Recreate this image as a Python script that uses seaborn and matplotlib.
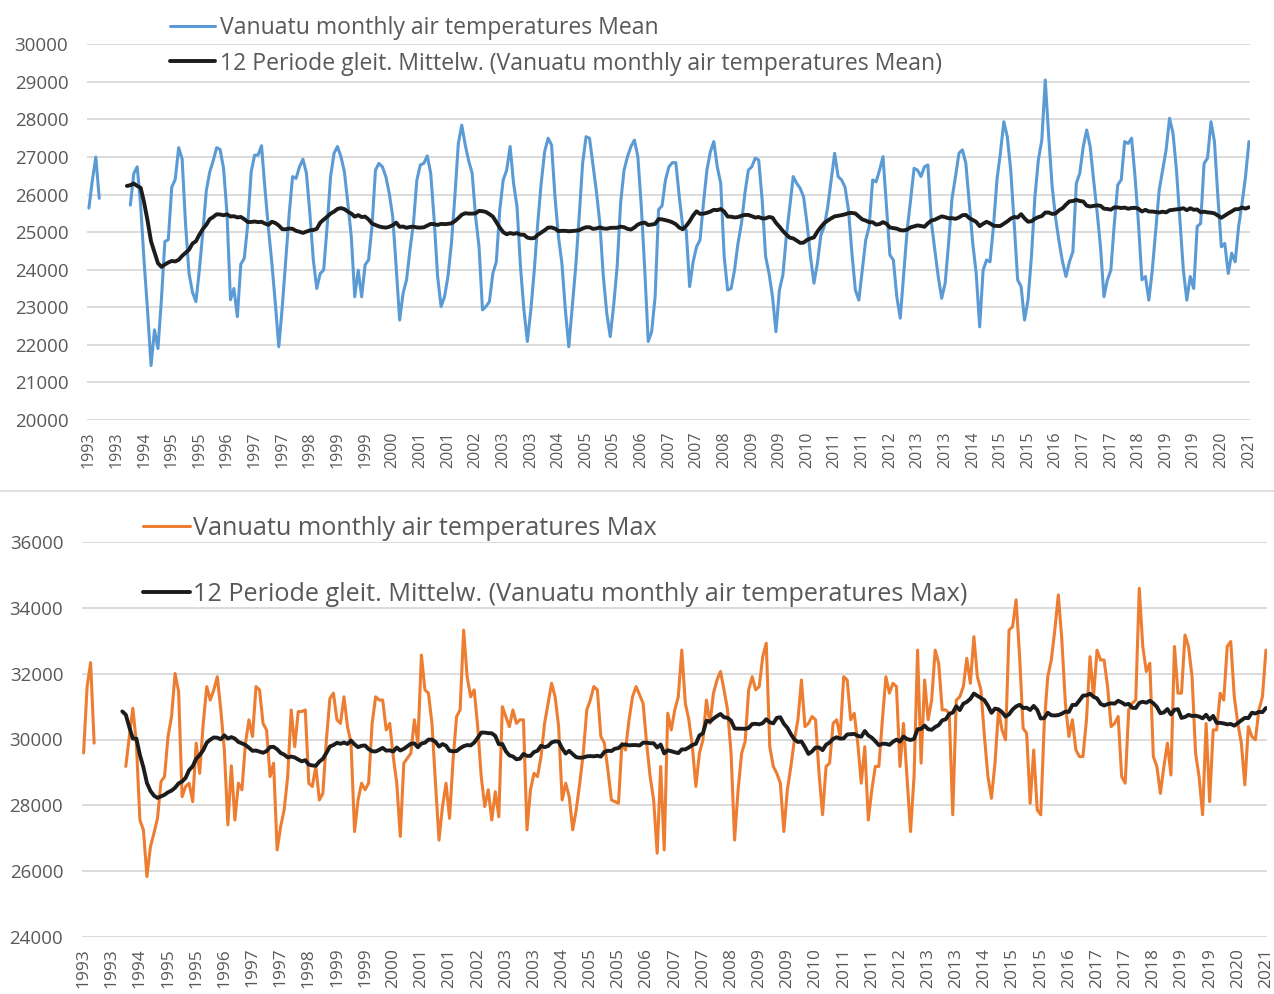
import numpy as np
import pandas as pd
import matplotlib
matplotlib.use("Agg")
import matplotlib.pyplot as plt
import seaborn as sns
from matplotlib.lines import Line2D

nan = np.nan

# x tick labels (one every 8 months, Jan 1993 .. Jan 2021)
tick_labels = ['1993', '1993', '1994', '1995', '1995', '1996', '1997', '1997', '1998',
               '1999', '1999', '2000', '2001', '2001', '2002', '2003', '2003', '2004',
               '2005', '2005', '2006', '2007', '2007', '2008', '2009', '2009', '2010',
               '2011', '2011', '2012', '2013', '2013', '2014', '2015', '2015', '2016',
               '2017', '2017', '2018', '2019', '2019', '2020', '2021']

# Monthly values, Jan 1993 .. Jan 2021 (blank months = nan)
mean_values = [
    25640, 26380, 27000, 25900, nan, nan, nan, nan, nan, nan, nan, nan,          # 1993
    25720, 26560, 26740, 25700, 24200, 22900, 21450, 22400, 21900, 23200, 24750, 24800,  # 1994
    26200, 26400, 27250, 26950, 25200, 23900, 23400, 23150, 24000, 25000, 26100, 26600,  # 1995
    26900, 27250, 27200, 26700, 25500, 23200, 23500, 22750, 24150, 24300, 25200, 26600,  # 1996
    27050, 27050, 27300, 26150, 25100, 24170, 23100, 21950, 23000, 24230, 25470, 26480,  # 1997
    26430, 26740, 26940, 26570, 25500, 24260, 23500, 23900, 23990, 25150, 26480, 27100,  # 1998
    27280, 27010, 26610, 25770, 24880, 23280, 23990, 23280, 24130, 24260, 25150, 26650,  # 1999
    26830, 26740, 26480, 26030, 25410, 24080, 22660, 23370, 23730, 24530, 25240, 26390,  # 2000
    26790, 26830, 27030, 26570, 25330, 23820, 23020, 23280, 23820, 24700, 25950, 27360,  # 2001
    27850, 27320, 26900, 26570, 25410, 24610, 22930, 23020, 23150, 23900, 24210, 25590,  # 2002
    26390, 26650, 27280, 26300, 25680, 24080, 22930, 22090, 22930, 23990, 25230, 26300,  # 2003
    27140, 27500, 27320, 25940, 24880, 24170, 22930, 21950, 23020, 24080, 25410, 26830,  # 2004
    27540, 27500, 26790, 26080, 25230, 23820, 22840, 22220, 23060, 24080, 25770, 26650,  # 2005
    27010, 27280, 27450, 27010, 25680, 23990, 22090, 22350, 23280, 25600, 25700, 26390,  # 2006
    26740, 26850, 26850, 25940, 25150, 25060, 23550, 24210, 24610, 24790, 25770, 26650,  # 2007
    27140, 27410, 26740, 26300, 24350, 23460, 23500, 23990, 24700, 25230, 26030, 26650,  # 2008
    26740, 26970, 26920, 25860, 24350, 23900, 23280, 22350, 23460, 23860, 24880, 25680,  # 2009
    26480, 26300, 26170, 25940, 25230, 24350, 23640, 24170, 24920, 25150, 25680, 26390,  # 2010
    27100, 26480, 26390, 26200, 25590, 24440, 23460, 23190, 23990, 24790, 25150, 26390,  # 2011
    26340, 26650, 27010, 25680, 24390, 24260, 23280, 22710, 23900, 25060, 25860, 26700,  # 2012
    26650, 26480, 26740, 26790, 25280, 24530, 23820, 23240, 23640, 24700, 25900, 26480,  # 2013
    27100, 27190, 26830, 25770, 24700, 23900, 22480, 23990, 24260, 24210, 25150, 26390,  # 2014
    27100, 27940, 27540, 26650, 25230, 23730, 23550, 22660, 23190, 24350, 25940, 26920,  # 2015
    27450, 29050, 27540, 26210, 25370, 24750, 24210, 23820, 24210, 24480, 26300, 26570,  # 2016
    27280, 27720, 27280, 26390, 25550, 24610, 23280, 23730, 23990, 25230, 26260, 26390,  # 2017
    27410, 27360, 27500, 26480, 25230, 23730, 23820, 23190, 23990, 25060, 26120, 26650,  # 2018
    27190, 28030, 27630, 26650, 25320, 23990, 23190, 23820, 23500, 25150, 25230, 26830,  # 2019
    26970, 27940, 27410, 25940, 24610, 24700, 23900, 24440, 24210, 25150, 25770, 26480,  # 2020
    27410,                                                                              # 2021
]

max_values = [
    29590, 31600, 32340, 29890, nan, nan, nan, nan, nan, nan, nan, nan,          # 1993
    29180, 30090, 30950, 29890, 27550, 27250, 25830, 26740, 27150, 27600, 28720, 28870,  # 1994
    30090, 30700, 32010, 31460, 28260, 28570, 28670, 28110, 29890, 28970, 30490, 31610,  # 1995
    31200, 31510, 31910, 30900, 29680, 27400, 29200, 27550, 28670, 28470, 29890, 30600,  # 1996
    30090, 31610, 31510, 30490, 30290, 28870, 29280, 26640, 27350, 27860, 28870, 30900,  # 1997
    29780, 30850, 30850, 30900, 28670, 28570, 29180, 28160, 28360, 29990, 31250, 31410,  # 1998
    30600, 30490, 31300, 30390, 29890, 27200, 28160, 28670, 28470, 28670, 30490, 31300,  # 1999
    31200, 31200, 30290, 30490, 29480, 28670, 27050, 29280, 29430, 29580, 30600, 29890,  # 2000
    32570, 31510, 31410, 30490, 28670, 26940, 27960, 28670, 27600, 29380, 30700, 30900,  # 2001
    33330, 31910, 31300, 31510, 30390, 28870, 27960, 28470, 27550, 28410, 27650, 31000,  # 2002
    30700, 30390, 30900, 30490, 30600, 30600, 27250, 28470, 28970, 28870, 29480, 30490,  # 2003
    31100, 31710, 31300, 30390, 28160, 28670, 28260, 27250, 27860, 28670, 29580, 30900,  # 2004
    31200, 31610, 31510, 30090, 29890, 29070, 28160, 28110, 28060, 29890, 29680, 30600,  # 2005
    31300, 31610, 31360, 31100, 29890, 28870, 28160, 26540, 29180, 26640, 30800, 30290,  # 2006
    30900, 31300, 32720, 31100, 30600, 29780, 28570, 29580, 29990, 31200, 30490, 31410,  # 2007
    31810, 32070, 31510, 30900, 29580, 26940, 28470, 29580, 29940, 31510, 31910, 31510,  # 2008
    31610, 32520, 32930, 29780, 29180, 28970, 28670, 27200, 28470, 29180, 29990, 30600,  # 2009
    31810, 30390, 30490, 30700, 30600, 28970, 27710, 29180, 29280, 30490, 30600, 30090,  # 2010
    31910, 31810, 30600, 30800, 29890, 28670, 29780, 27550, 28470, 29180, 29180, 30600,  # 2011
    31910, 31410, 31710, 31610, 29180, 30490, 28870, 27200, 28870, 32720, 29280, 31810,  # 2012
    30600, 31200, 32720, 32320, 30900, 30900, 30800, 27710, 31200, 31300, 31610, 32470,  # 2013
    31710, 33130, 31910, 31510, 30090, 28870, 28210, 29280, 30900, 30290, 29990, 33330,  # 2014
    33430, 34250, 32520, 30340, 30190, 28060, 29680, 27860, 27710, 30490, 31910, 32420,  # 2015
    33330, 34400, 33030, 31100, 30090, 30600, 29680, 29480, 29480, 30600, 32520, 31300,  # 2016
    32720, 32420, 32420, 31610, 30390, 30490, 30700, 28870, 28670, 30900, 31100, 31200,  # 2017
    34600, 32830, 32070, 32320, 29480, 29180, 28360, 29180, 29890, 28920, 32830, 31410,  # 2018
    31410, 33180, 32830, 31910, 29580, 28870, 27710, 30490, 28110, 30290, 30290, 31410,  # 2019
    31200, 32830, 32980, 31300, 30490, 29890, 28620, 30390, 30090, 29990, 30900, 31300,  # 2020
    32720,                                                                              # 2021
]

mean_label = "Vanuatu monthly air temperatures Mean"
mean_ma_label = "12 Periode gleit. Mittelw. (Vanuatu monthly air temperatures Mean)"
max_label = "Vanuatu monthly air temperatures Max"
max_ma_label = "12 Periode gleit. Mittelw. (Vanuatu monthly air temperatures Max)"

BLUE = "#5b9bd5"
ORANGE = "#ed7d31"
MA_COLOR = "#1c1c1c"
GRID = "#d9d9d9"
TEXT = "#595959"

sns.set_theme(style="white")
plt.rcParams["font.family"] = ["Open Sans", "DejaVu Sans"]

W, H = 1274, 994
fig = plt.figure(figsize=(W / 100, H / 100), dpi=100)


def rect(x0, x1, ytop, ybot):
    return [x0 / W, 1 - ybot / H, (x1 - x0) / W, (ybot - ytop) / H]


def draw_panel(ax, values, color, yticks, xlim, xlabelsize, xpad):
    s = pd.Series(values, dtype=float)
    months = np.arange(len(s))
    seg = s.isna().cumsum()
    df = pd.DataFrame({"month": months, "value": s, "seg": seg}).dropna()
    sns.lineplot(data=df, x="month", y="value", units="seg", estimator=None,
                 color=color, lw=2.2, ax=ax, legend=False)
    # Excel-style 12 period moving average (blank cells ignored)
    ma = s.rolling(12, min_periods=1).mean()
    ma.iloc[:11] = np.nan
    dfm = pd.DataFrame({"month": months, "value": ma}).dropna()
    sns.lineplot(data=dfm, x="month", y="value", color=MA_COLOR, lw=2.8, ax=ax,
                 legend=False)

    ax.set_ylim(yticks[0], yticks[-1])
    ax.set_yticks(yticks)
    ax.set_yticklabels([str(v) for v in yticks])
    ax.set_xlim(*xlim)
    ax.set_xticks(np.arange(0, len(s), 8))
    ax.set_xticklabels(tick_labels, rotation=90)
    ax.grid(axis="y", color=GRID, lw=1.3)
    ax.grid(axis="x", visible=False)
    ax.set_axisbelow(True)
    for sp in ax.spines.values():
        sp.set_visible(False)
    ax.set_xlabel("")
    ax.set_ylabel("")
    ax.tick_params(axis="y", length=0, pad=13.5, labelsize=13.5, labelcolor=TEXT)
    ax.tick_params(axis="x", length=0, pad=xpad, labelsize=xlabelsize, labelcolor=TEXT)


ax1 = fig.add_axes(rect(87, 1250, 44.3, 420))
draw_panel(ax1, mean_values, BLUE, list(range(20000, 30001, 1000)), (-0.55, 336.3), 11.5, 8)

ax2 = fig.add_axes(rect(82, 1267, 542.3, 936.7))
draw_panel(ax2, max_values, ORANGE, list(range(24000, 36001, 2000)), (-0.45, 336.3), 12.5, 8)

# legends
h1 = [Line2D([], [], color=BLUE, lw=2.2), Line2D([], [], color=MA_COLOR, lw=2.8)]
fig.legend(h1, [mean_label, mean_ma_label], loc="upper left",
           bbox_to_anchor=(170 / W, 1 - 16 / H), frameon=False, borderpad=0,
           borderaxespad=0, handlelength=1.95, handletextpad=0.22,
           labelspacing=0.5, fontsize=16.6, labelcolor=TEXT)

h2 = [Line2D([], [], color=ORANGE, lw=2.2), Line2D([], [], color=MA_COLOR, lw=2.8)]
fig.legend(h2, [max_label, max_ma_label], loc="upper left",
           bbox_to_anchor=(143 / W, 1 - 516 / H), frameon=False, borderpad=0,
           borderaxespad=0, handlelength=1.85, handletextpad=0.12,
           labelspacing=1.62, fontsize=18.2, labelcolor=TEXT)

# separator between the two charts
fig.add_artist(Line2D([0, 1], [1 - 491 / H, 1 - 491 / H], color=GRID, lw=1.2,
                      transform=fig.transFigure))

fig.savefig("out.png", dpi=100, facecolor="white")
